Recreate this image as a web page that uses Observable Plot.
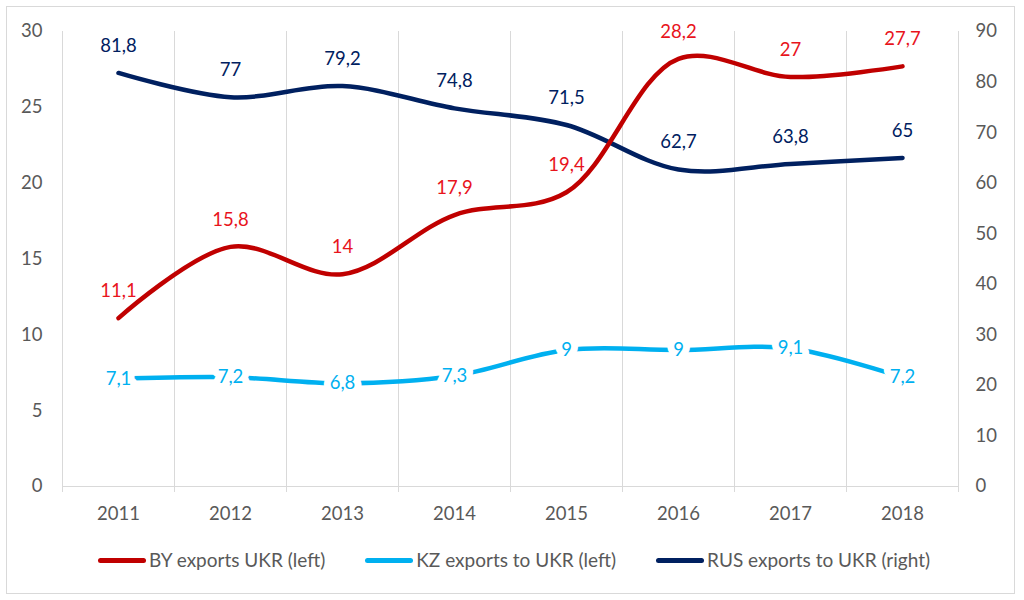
<!DOCTYPE html>
<html>
<head>
<meta charset="utf-8">
<script src="https://cdn.jsdelivr.net/npm/d3@7"></script>
<script src="https://cdn.jsdelivr.net/npm/@observablehq/plot@0.6"></script>
<style>
  html, body { margin: 0; padding: 0; background: #fff; }
  body { width: 1024px; height: 600px; position: relative; overflow: hidden; font-family: Lato, "Open Sans", sans-serif; }
  #frame { position: absolute; left: 6px; top: 6px; border: 1px solid #d9d9d9; box-sizing: border-box; width: 1009px; height: 588px; }
  #chart { position: absolute; left: 0; top: 0; }
  #legend { position: absolute; left: 0; top: 547px; width: 1024px; display: flex; justify-content: center; gap: 40px; font-size: 19px; color: #595959; line-height: 26px; padding-left: 2px; }
  .item { display: flex; align-items: center; }
  .sw { display: inline-block; width: 48px; height: 5px; border-radius: 3px; margin-right: 3px; }
</style>
</head>
<body>
<div id="frame"></div>
<div id="chart"></div>
<div id="legend"></div>
<script>
const years = [2011, 2012, 2013, 2014, 2015, 2016, 2017, 2018];
const byExports = [11.1, 15.8, 14, 17.9, 19.4, 28.2, 27, 27.7];
const kzExports = [7.1, 7.2, 6.8, 7.3, 9, 9, 9.1, 7.2];
const rusExports = [81.8, 77, 79.2, 74.8, 71.5, 62.7, 63.8, 65];
const leftTicks = [0, 5, 10, 15, 20, 25, 30];
const rightTicks = [0, 10, 20, 30, 40, 50, 60, 70, 80, 90];
const seriesNames = ["BY exports UKR (left)", "KZ exports to UKR (left)", "RUS exports to UKR (right)"];
const lineColors = ["#C00000", "#00B0F0", "#002060"];
const labelColors = ["#E8141C", "#00B0F0", "#002060"];

const ratio = 3; // right axis max (90) / left axis max (30)
const fmt = v => String(v).replace(".", ",");
const by = years.map((x, i) => ({x, v: byExports[i]}));
const kz = years.map((x, i) => ({x, v: kzExports[i]}));
const rus = years.map((x, i) => ({x, v: rusExports[i]}));
const bounds = years.map(y => y - 0.5).concat([years[years.length - 1] + 0.5]);

const textColor = "#595959";
const gridColor = "#d9d9d9";
const fs = 18.5;

const plot = Plot.plot({
  width: 1024,
  height: 530,
  marginTop: 31,
  marginBottom: 44,
  marginLeft: 62,
  marginRight: 66,
  style: { fontFamily: "Lato, 'Open Sans', sans-serif", background: "transparent" },
  x: { domain: [bounds[0], bounds[bounds.length - 1]] },
  y: { domain: [0, 30] },
  marks: [
    Plot.ruleX(bounds, { x: d => d, y1: 0, y2: 30, stroke: gridColor, strokeWidth: 1 }),
    Plot.ruleY([0], { stroke: gridColor, strokeWidth: 1 }),
    Plot.axisX(bounds, { tickSize: 6, stroke: gridColor, tickFormat: () => "", label: null }),
    Plot.axisX(years, { tickSize: 0, tickPadding: 20, tickFormat: d => String(d), fontSize: fs, fill: textColor, label: null }),
    Plot.axisY(leftTicks, { anchor: "left", tickSize: 0, tickPadding: 20, fontSize: fs, fill: textColor, label: null }),
    Plot.axisY(rightTicks.map(v => v / ratio), { anchor: "right", tickSize: 0, tickPadding: 17, textAnchor: "start", tickFormat: d => String(Math.round(d * ratio)), fontSize: fs, fill: textColor, label: null }),
    Plot.line(rus, { x: "x", y: d => d.v / ratio, stroke: lineColors[2], strokeWidth: 4.5, curve: "catmull-rom" }),
    Plot.line(by, { x: "x", y: "v", stroke: lineColors[0], strokeWidth: 4.5, curve: "catmull-rom" }),
    Plot.line(kz, { x: "x", y: "v", stroke: lineColors[1], strokeWidth: 4.5, curve: "catmull-rom" }),
    Plot.text(by, { x: "x", y: "v", text: d => fmt(d.v), dy: -27, fill: labelColors[0], fontSize: fs }),
    Plot.text(rus, { x: "x", y: d => d.v / ratio, text: d => fmt(d.v), dy: -27, fill: labelColors[2], fontSize: fs }),
    Plot.text(kz, { x: "x", y: "v", text: d => fmt(d.v), fill: labelColors[1], fontSize: fs, stroke: "white", strokeWidth: 14, strokeLinejoin: "round" })
  ]
});
document.getElementById("chart").appendChild(plot);

const legend = document.getElementById("legend");
seriesNames.forEach((name, i) => {
  const item = document.createElement("div");
  item.className = "item";
  const sw = document.createElement("span");
  sw.className = "sw";
  sw.style.background = lineColors[i];
  const t = document.createElement("span");
  t.textContent = name;
  item.appendChild(sw);
  item.appendChild(t);
  legend.appendChild(item);
});
</script>
</body>
</html>
